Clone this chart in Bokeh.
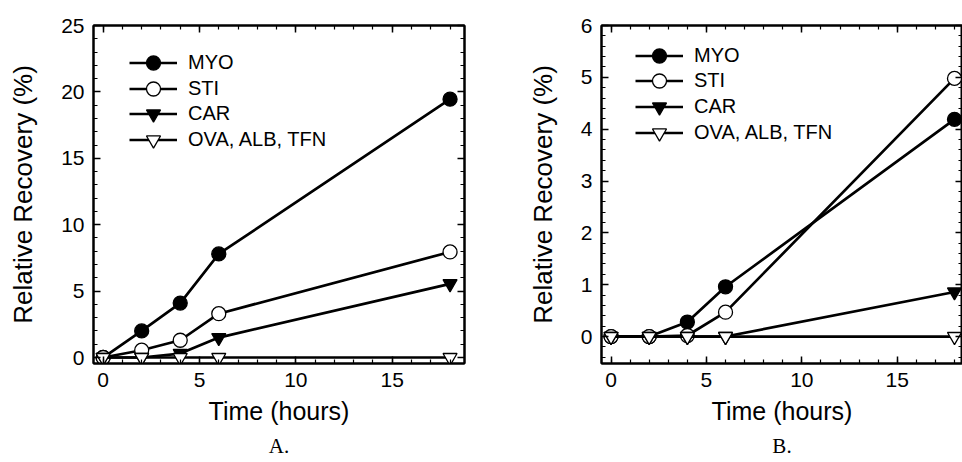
from bokeh.plotting import figure
from bokeh.layouts import row
from bokeh.models import LinearAxis, Legend, LegendItem, Title, FixedTicker
from bokeh.embed import file_html
from bokeh.resources import INLINE

# ---- data ----
time_h = [0, 2, 4, 6, 18]
series_names = ["MYO", "STI", "CAR", "OVA, ALB, TFN"]

a_myo = [0.0, 2.0, 4.1, 7.8, 19.45]
a_sti = [0.0, 0.55, 1.3, 3.3, 7.95]
a_car = [0.0, 0.0, 0.3, 1.5, 5.55]
a_ova = [0.0, 0.0, 0.0, 0.0, 0.0]

b_myo = [0.0, 0.0, 0.28, 0.96, 4.19]
b_sti = [0.0, 0.0, 0.02, 0.47, 4.98]
b_car = [0.0, 0.0, 0.0, 0.0, 0.86]
b_ova = [0.0, 0.0, 0.0, 0.0, 0.0]

a_yticks = [0, 5, 10, 15, 20, 25]
b_yticks = [0, 1, 2, 3, 4, 5, 6]
xticks = [0, 5, 10, 15]

FONT = "Liberation Sans"
styles = [
    dict(marker="circle", fill_color="black"),
    dict(marker="circle", fill_color="white"),
    dict(marker="inverted_triangle", fill_color="black"),
    dict(marker="inverted_triangle", fill_color="white"),
]


def style_axis(ax, ticks, minor, show_labels, label=None, label_size="25px"):
    ax.ticker = FixedTicker(ticks=ticks, minor_ticks=minor)
    ax.axis_line_color = "black"
    ax.axis_line_width = 2
    ax.major_tick_in = 7
    ax.major_tick_out = 0
    ax.minor_tick_in = 4
    ax.minor_tick_out = 0
    ax.major_tick_line_width = 1.5
    ax.minor_tick_line_width = 1.2
    ax.major_tick_line_color = "black"
    ax.minor_tick_line_color = "black"
    if show_labels:
        ax.major_label_text_font = FONT
        ax.major_label_text_font_size = "21px"
        ax.major_label_text_color = "black"
        ax.major_label_standoff = 9
    else:
        ax.major_label_text_font_size = "1px"
        ax.major_label_text_color = None
        ax.major_label_standoff = 0
    if label:
        ax.axis_label = label
        ax.axis_label_text_font = FONT
        ax.axis_label_text_font_size = label_size
        ax.axis_label_text_font_style = "normal"
        ax.axis_label_text_color = "black"


def make_panel(ys, yr, yticks, yminor, letter, left_border, right_border, xr,
               legend_x, legend_ys, width):
    p = figure(width=width, height=462, x_range=xr, y_range=yr,
               min_border_left=left_border, min_border_right=right_border,
               min_border_top=25, min_border_bottom=99,
               output_backend="svg", toolbar_location=None,
               x_axis_location=None, y_axis_location=None)
    p.xgrid.visible = False
    p.ygrid.visible = False
    p.outline_line_color = "black"
    p.outline_line_width = 2
    p.outline_line_alpha = 1

    xminor = list(range(0, 19))
    bottom = LinearAxis()
    style_axis(bottom, xticks, xminor, True, "Time (hours)", "25px")
    bottom.axis_label_standoff = 7
    top = LinearAxis()
    style_axis(top, xticks, xminor, False)
    left = LinearAxis()
    style_axis(left, yticks, yminor, True, "Relative Recovery (%)", "26px")
    left.axis_label_standoff = 20
    right = LinearAxis()
    style_axis(right, yticks, yminor, False)
    p.add_layout(bottom, "below")
    p.add_layout(top, "above")
    p.add_layout(left, "left")
    p.add_layout(right, "right")

    for name, y, st, ly in zip(series_names, ys, styles, legend_ys):
        ln = p.line(time_h, y, line_color="black", line_width=2.7)
        sc = p.scatter(time_h, y, marker=st["marker"], size=14,
                       fill_color=st["fill_color"], line_color="black", line_width=1.3)
        leg = Legend(items=[LegendItem(label=name, renderers=[ln, sc])],
                     location=(legend_x, ly), padding=0, margin=0,
                     border_line_color=None, background_fill_alpha=0,
                     glyph_width=48, glyph_height=35, spacing=0, label_standoff=11,
                     label_text_font=FONT, label_text_font_size="20px",
                     label_text_color="black")
        p.add_layout(leg, "center")

    t = Title(text=letter, align="center", text_font="Liberation Serif",
              text_font_size="21px", text_font_style="normal", text_color="black",
              standoff=9, offset=0)
    p.add_layout(t, "below")
    return p


pa = make_panel([a_myo, a_sti, a_car, a_ova], (-0.45, 25), a_yticks,
                [float(v) for v in range(0, 26)], "A.", 93, 16, (-0.5, 18.75),
                36, [283.5, 257.5, 232.5, 206.5], 480)
pb = make_panel([b_myo, b_sti, b_car, b_ova], (-0.52, 6), b_yticks,
                [round(-0.4 + 0.2 * i, 1) for i in range(0, 33)], "B.", 121, 0, (-0.5, 18.42),
                34, [289.8, 264.8, 239.5, 213.5], 482)

layout = row(pa, pb)
open("out.html", "w").write(file_html(layout, INLINE))
